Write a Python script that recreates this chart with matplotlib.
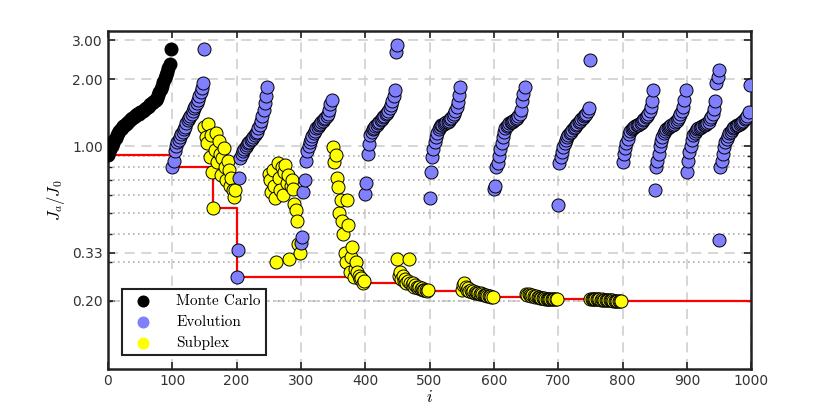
import numpy as np
import matplotlib.pyplot as plt
from matplotlib.ticker import FixedLocator, FixedFormatter, NullFormatter

plt.rcParams['mathtext.fontset'] = 'cm'

# objective value J_a/J_0 per evaluation i (read every 2nd evaluation)
mc_0 = [0.91, 0.94, 0.97, 1.00, 1.03, 1.06, 1.09, 1.12, 1.14, 1.17,
        1.19, 1.21, 1.23, 1.25, 1.26, 1.27, 1.29, 1.31, 1.32, 1.34,
        1.35, 1.36, 1.38, 1.39, 1.40, 1.42, 1.43, 1.44, 1.46, 1.47,
        1.48, 1.50, 1.52, 1.54, 1.56, 1.58, 1.60, 1.62, 1.64, 1.70,
        1.75, 1.80, 1.86, 1.94, 2.02, 2.10, 2.16, 2.26, 2.34, 2.75]

evo_100 = [0.80, 0.86, 0.95, 1.00, 1.04, 1.07, 1.10, 1.13, 1.16, 1.19, 1.22, 1.27, 1.31,
           1.34, 1.37, 1.40, 1.44, 1.48, 1.52, 1.57, 1.61, 1.68, 1.76, 1.83, 1.92, 2.73]
sub_150 = [1.22, 1.10, 1.03, 1.26, 0.89, 1.12, 0.76, 0.525, 0.96, 1.15, 0.85, 1.05, 0.92,
           0.74, 0.88, 0.98, 0.80, 0.70, 0.86, 0.78, 0.66, 0.72, 0.63, 0.59, 0.63]
evo_200 = [0.257, 0.34, 0.72, 0.88, 0.92, 0.95, 0.97, 0.99, 1.01, 1.03, 1.04, 1.06, 1.08,
           1.10, 1.12, 1.14, 1.16, 1.20, 1.25, 1.30, 1.36, 1.45, 1.56, 1.68, 1.84]
sub_250 = [0.75, 0.70, 0.62, 0.78, 0.66, 0.58, 0.30, 0.84, 0.72, 0.63, 0.80, 0.60, 0.76,
           0.82, 0.68, 0.74, 0.31, 0.66, 0.70, 0.64, 0.55, 0.515, 0.46, 0.36, 0.33]
evo_300 = [0.365, 0.39, 0.62, 0.70, 0.86, 0.95, 1.00, 1.04, 1.08, 1.11, 1.14, 1.17, 1.20,
           1.22, 1.24, 1.26, 1.28, 1.30, 1.32, 1.34, 1.37, 1.40, 1.45, 1.55, 1.62]
sub_350 = [0.99, 0.85, 0.91, 0.72, 0.65, 0.50, 0.57, 0.46, 0.40, 0.33, 0.30, 0.57, 0.44,
           0.27, 0.315, 0.35, 0.257, 0.28, 0.30, 0.27, 0.26, 0.25, 0.255, 0.24, 0.245]
evo_400 = [0.61, 0.68, 0.92, 1.02, 1.12, 1.16, 1.19, 1.21, 1.23, 1.25, 1.27, 1.29, 1.31,
           1.33, 1.35, 1.37, 1.39, 1.41, 1.44, 1.48, 1.53, 1.60, 1.68, 1.79, 2.65, 2.85]
sub_450 = [0.31, 0.26, 0.27, 0.25, 0.26, 0.245, 0.25, 0.24, 0.245, 0.31, 0.24, 0.235, 0.24,
           0.23, 0.235, 0.232, 0.228, 0.23, 0.226, 0.228, 0.225, 0.224, 0.223, 0.222, 0.224]
evo_500 = [0.58, 0.76, 0.89, 0.97, 1.04, 1.10, 1.15, 1.19, 1.22, 1.24, 1.25, 1.26, 1.27,
           1.28, 1.29, 1.30, 1.32, 1.34, 1.37, 1.40, 1.44, 1.50, 1.58, 1.70, 1.84]
sub_550 = [0.225, 0.235, 0.24, 0.23, 0.225, 0.228, 0.222, 0.225, 0.22, 0.222, 0.218, 0.22,
           0.216, 0.218, 0.215, 0.216, 0.214, 0.213, 0.212, 0.213, 0.211, 0.211, 0.21,
           0.209, 0.209]
evo_600 = [0.64, 0.66, 0.80, 0.84, 0.90, 0.97, 1.03, 1.10, 1.16, 1.20, 1.23, 1.25, 1.27,
           1.28, 1.29, 1.30, 1.31, 1.32, 1.34, 1.36, 1.40, 1.46, 1.60, 1.72, 1.85]
sub_650 = [0.215, 0.213, 0.214, 0.212, 0.211, 0.212, 0.21, 0.209, 0.21, 0.208, 0.208,
           0.207, 0.207, 0.206, 0.206, 0.205, 0.205, 0.205, 0.204, 0.204, 0.204, 0.204,
           0.204, 0.204, 0.203]
evo_700 = [0.54, 0.84, 0.89, 0.94, 0.99, 1.03, 1.07, 1.10, 1.12, 1.14, 1.16, 1.18, 1.20,
           1.22, 1.24, 1.26, 1.28, 1.30, 1.32, 1.34, 1.36, 1.38, 1.40, 1.44, 1.48, 2.44]
sub_750 = [0.205, 0.204, 0.205, 0.204, 0.203, 0.204, 0.203, 0.203, 0.202, 0.203, 0.202,
           0.202, 0.202, 0.201, 0.201, 0.201, 0.201, 0.201, 0.2005, 0.2005, 0.2005, 0.200,
           0.200, 0.200, 0.200]
evo_800 = [0.85, 0.92, 0.98, 1.03, 1.08, 1.13, 1.17, 1.19, 1.21, 1.22, 1.23, 1.24, 1.25,
           1.26, 1.27, 1.29, 1.31, 1.33, 1.35, 1.37, 1.40, 1.44, 1.50, 1.60, 1.79]
evo_850 = [0.63, 0.80, 0.86, 0.92, 1.00, 1.05, 1.10, 1.14, 1.17, 1.19, 1.21, 1.22, 1.23,
           1.24, 1.25, 1.26, 1.28, 1.30, 1.32, 1.35, 1.39, 1.44, 1.50, 1.62, 1.79]
evo_900 = [0.76, 0.86, 0.94, 1.00, 1.06, 1.12, 1.15, 1.17, 1.19, 1.20, 1.21, 1.22, 1.23,
           1.24, 1.25, 1.26, 1.27, 1.29, 1.32, 1.35, 1.40, 1.47, 1.60, 1.92, 2.05, 2.20]
evo_950 = [0.377, 0.80, 0.86, 0.92, 0.99, 1.04, 1.08, 1.11, 1.14, 1.16, 1.18, 1.20, 1.22,
           1.23, 1.24, 1.25, 1.26, 1.27, 1.28, 1.30, 1.32, 1.34, 1.36, 1.42, 1.88]

# (method, first evaluation index, values)
BLOCKS = [
    ("Monte Carlo", 0, mc_0),
    ("Evolution", 100, evo_100),
    ("Subplex", 150, sub_150),
    ("Evolution", 200, evo_200),
    ("Subplex", 250, sub_250),
    ("Evolution", 300, evo_300),
    ("Subplex", 350, sub_350),
    ("Evolution", 400, evo_400),
    ("Subplex", 450, sub_450),
    ("Evolution", 500, evo_500),
    ("Subplex", 550, sub_550),
    ("Evolution", 600, evo_600),
    ("Subplex", 650, sub_650),
    ("Evolution", 700, evo_700),
    ("Subplex", 750, sub_750),
    ("Evolution", 800, evo_800),
    ("Evolution", 850, evo_850),
    ("Evolution", 900, evo_900),
    ("Evolution", 950, evo_950),
]
STEP = 2
COLORS = {"Monte Carlo": "black", "Evolution": "#8080ff", "Subplex": "#ffff00"}

fig = plt.figure(figsize=(8.3, 4.15), dpi=100)
ax = fig.add_axes([0.130, 0.111, 0.775, 0.814])

all_i, all_v = [], []
seen = set()
for name, start, vals in BLOCKS:
    xs = start + STEP * np.arange(len(vals))
    label = name if name not in seen else None
    seen.add(name)
    ax.scatter(xs, vals, s=88, c=COLORS[name], edgecolors="black", linewidths=0.7,
               zorder=3, label=label)
    all_i.extend(xs)
    all_v.extend(vals)

# best value found so far
order = np.argsort(all_i, kind="stable")
best_i = np.append(np.array(all_i)[order], 1000)
best_v = np.minimum.accumulate(np.array(all_v)[order])
best_v = np.append(best_v, best_v[-1])
ax.plot(best_i, best_v, color="red", lw=1.6, drawstyle="steps-post", zorder=2)

ax.set_yscale("log")
ax.set_xlim(0, 1000)
ax.set_ylim(0.0986, 3.3)
ax.set_xticks(np.arange(0, 1001, 100))
ax.yaxis.set_major_locator(FixedLocator([0.2, 0.33, 1.0, 2.0, 3.0]))
ax.yaxis.set_major_formatter(FixedFormatter(["0.20", "0.33", "1.00", "2.00", "3.00"]))
ax.yaxis.set_minor_locator(FixedLocator([0.2, 0.3, 0.4, 0.5, 0.6, 0.7, 0.8, 0.9]))
ax.yaxis.set_minor_formatter(NullFormatter())
ax.yaxis.remove_overlapping_locs = False

ax.grid(True, which="major", color="#cfcfcf", linestyle=(0, (6, 4)), lw=1.2, zorder=0)
ax.grid(True, which="minor", axis="y", color="#b0b0b0", linestyle=(0, (1, 2)), lw=1.2, zorder=0)
ax.set_axisbelow(True)

ax.tick_params(which="both", direction="in", top=True, right=True, colors="#222222",
               labelcolor="#333333", labelsize=10)
ax.tick_params(which="major", length=5, width=1.2)
ax.tick_params(which="minor", length=3, width=1.0)
for sp in ax.spines.values():
    sp.set_linewidth(1.8)
    sp.set_color("#222222")

ax.set_xlabel("$i$", fontsize=12, labelpad=0)
ax.set_ylabel("$J_a/J_0$", fontsize=12)

leg = ax.legend(loc="lower left", bbox_to_anchor=(0.022, 0.041), borderaxespad=0,
                fancybox=False, framealpha=1, edgecolor="#222222",
                prop={"family": "cmr10", "size": 11}, handletextpad=1.2,
                borderpad=0.35, labelspacing=0.45)
leg.get_frame().set_linewidth(1.5)
for h in leg.legend_handles:
    h.set_sizes([75])
    h.set_linewidth(0)

fig.savefig("out.png", dpi=100)
